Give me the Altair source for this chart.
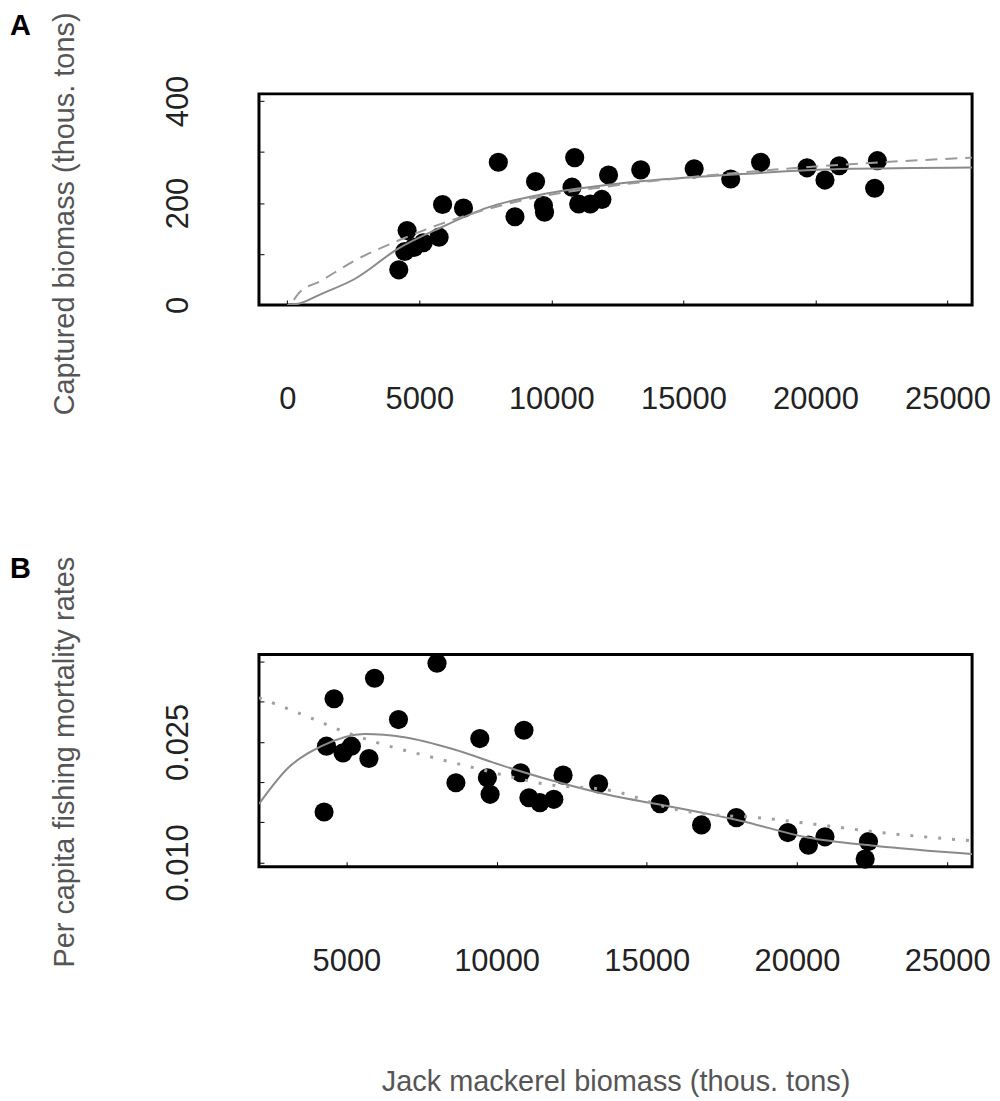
import altair as alt
import pandas as pd

FONT = "Liberation Sans"

# ---- Panel A: captured biomass vs jack mackerel biomass ----
a_x = [4223, 4450, 4538, 4800, 5150, 5750, 5881, 6673, 7993, 8622, 9402, 9700, 9741,
       10783, 10884, 11035, 11476, 11914, 12166, 13384, 15408, 16791, 17923, 19680,
       20360, 20900, 22243, 22345]
a_y = [69, 105, 146, 113, 122, 133, 197, 190, 280, 173, 242, 195, 182,
       231, 289, 198, 198, 207, 255, 265, 267, 247, 280, 269,
       245, 273, 229, 283]

a_solid_x = [0, 415, 1297, 2552, 4185, 5820, 7578, 9715, 12354, 17191, 20961, 25926]
a_solid_y = [0, 2.3, 22, 51, 110, 152, 191, 217.6, 237, 256.7, 266.5, 269.7]
a_dash_x = [250, 415, 1297, 2552, 4185, 5820, 7578, 9715, 12354, 17191, 20961, 25926]
a_dash_y = [10, 22, 48, 87, 126, 159, 188, 214, 234, 260, 275, 289]

# ---- Panel B: per capita fishing mortality rates ----
b_x = [4257, 4337, 4589, 4887, 5166, 5750, 5938, 6734, 8017, 8646, 9442, 9694, 9784,
       10801, 10911, 11076, 11441, 11905, 12214, 13397, 15442, 16822, 17982, 19695,
       20381, 20932, 22271, 22381]
b_y = [0.01628, 0.02447, 0.03038, 0.02364, 0.02447, 0.02294, 0.03293, 0.02778, 0.03479,
       0.01992, 0.02542, 0.02054, 0.01848, 0.02116, 0.02645, 0.01806, 0.01744, 0.01786,
       0.02087, 0.01979, 0.01731, 0.01467, 0.01558, 0.01372, 0.01216, 0.01319, 0.01042,
       0.01260]

b_solid_x = [2093, 3064, 4171, 5607, 6933, 8590, 10248, 11905, 13894, 15386, 18148,
             20358, 22569, 25829]
b_solid_y = [0.0173, 0.02178, 0.02447, 0.02599, 0.02558, 0.02406, 0.02199, 0.02013,
             0.01827, 0.01724, 0.01517, 0.0131, 0.01207, 0.01104]
b_dot_x = [2093, 3949, 4612, 6048, 7705, 9031, 11683, 13894, 15939, 17043, 18700,
           20580, 23120, 25829]
b_dot_y = [0.0305, 0.02778, 0.02673, 0.02488, 0.02323, 0.02199, 0.01972, 0.01889,
           0.01662, 0.0160, 0.01558, 0.01476, 0.01359, 0.0127]

x_ticks_a = [0, 5000, 10000, 15000, 20000, 25000]
x_ticks_b = [5000, 10000, 15000, 20000, 25000]
y_ticks_a = [0, 100, 200, 300, 400]
y_ticks_b = [0.010, 0.015, 0.020, 0.025, 0.030, 0.035]

W, HA, HB = 716, 212, 213
LBL = 31
TTL = 29


def x_axis(values, title=None):
    kw = dict(values=values, format="d", labelFontSize=LBL, labelFont=FONT,
              labelColor="#222", labelPadding=80, labelOverlap=False, labelFlush=False,
              offset=-5, tickSize=5, tickColor="#000", tickWidth=1, domain=False,
              grid=False)
    if title:
        kw.update(title=title, titleFont=FONT, titleFontSize=TTL, titleColor="#555",
                  titleFontWeight="normal", titlePadding=92)
    else:
        kw.update(title=None)
    return alt.Axis(**kw)


def y_axis(values, title, label_expr, title_y):
    return alt.Axis(values=values, labelExpr=label_expr, labelAngle=270,
                    labelAlign="center", labelBaseline="bottom", labelFontSize=LBL,
                    labelFont=FONT, labelColor="#222", labelPadding=65,
                    labelOverlap=False, offset=-5, tickSize=5, tickColor="#000",
                    domain=False, grid=False, title=title, titleFont=FONT,
                    titleFontSize=TTL, titleColor="#555", titleFontWeight="normal",
                    titlePadding=83, titleY=title_y)


dfA = pd.DataFrame({"x": a_x, "y": a_y})
dfAs = pd.DataFrame({"x": a_solid_x, "y": a_solid_y})
dfAd = pd.DataFrame({"x": a_dash_x, "y": a_dash_y})
dfB = pd.DataFrame({"x": b_x, "y": b_y})
dfBs = pd.DataFrame({"x": b_solid_x, "y": b_solid_y})
dfBd = pd.DataFrame({"x": b_dot_x, "y": b_dot_y})

xA = alt.X("x:Q", scale=alt.Scale(domain=[-1070, 25930], nice=False, zero=False),
           axis=x_axis(x_ticks_a))
yA = alt.Y("y:Q", scale=alt.Scale(domain=[0, 414], nice=False, zero=False),
           axis=y_axis(y_ticks_a, "Captured biomass (thous. tons)",
                       "datum.value % 200 == 0 ? datum.label : ''", HA / 2 + 14))

ptsA = alt.Chart(dfA).mark_circle(size=370, color="black", opacity=1).encode(x=xA, y=yA)
solA = alt.Chart(dfAs).mark_line(color="#8a8a8a", strokeWidth=2, clip=True,
                                 interpolate="monotone").encode(x="x:Q", y="y:Q")
dasA = alt.Chart(dfAd).mark_line(color="#9a9a9a", strokeWidth=2, strokeDash=[12, 8],
                                 clip=True, interpolate="monotone").encode(x="x:Q", y="y:Q")

panelA = alt.layer(ptsA, solA, dasA).properties(
    width=W, height=HA,
    title=alt.TitleParams("A", anchor="start", frame="group", dx=-250, offset=0, dy=29,
                          fontSize=29, fontWeight="bold", font=FONT, color="black"))

xB = alt.X("x:Q", scale=alt.Scale(domain=[2090, 25830], nice=False, zero=False),
           axis=x_axis(x_ticks_b, "Jack mackerel biomass (thous. tons)"))
yB = alt.Y("y:Q", scale=alt.Scale(domain=[0.00947, 0.03587], nice=False, zero=False),
           axis=y_axis(y_ticks_b, "Per capita fishing mortality rates",
                       "(abs(datum.value - 0.010) < 0.0005 || abs(datum.value - 0.025) < 0.0005) ? format(datum.value, '.3f') : ''",
                       HB / 2 + 1))

ptsB = alt.Chart(dfB).mark_circle(size=370, color="black", opacity=1).encode(x=xB, y=yB)
solB = alt.Chart(dfBs).mark_line(color="#8a8a8a", strokeWidth=2, clip=True,
                                 interpolate="monotone").encode(x="x:Q", y="y:Q")
dotB = alt.Chart(dfBd).mark_line(color="#a0a0a0", strokeWidth=3, strokeDash=[3, 11],
                                 clip=True, interpolate="monotone").encode(x="x:Q", y="y:Q")

panelB = alt.layer(ptsB, solB, dotB).properties(
    width=W, height=HB,
    title=alt.TitleParams("B", anchor="start", frame="group", dx=-250, offset=0, dy=28,
                          fontSize=29, fontWeight="bold", font=FONT, color="black"))

chart = alt.vconcat(panelA, panelB, spacing=137).properties(
    padding=0, background="white"
).configure_view(stroke="black", strokeWidth=3).configure_concat(spacing=137)

chart.save("out.html", embed_options={"renderer": "svg", "actions": False})
